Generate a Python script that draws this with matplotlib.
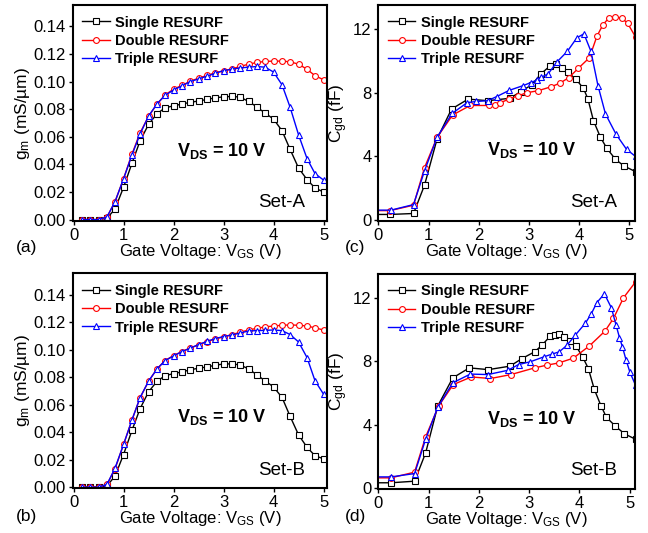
import matplotlib
matplotlib.use("Agg")
import matplotlib.pyplot as plt

plt.rcParams['font.family'] = ['Liberation Sans', 'DejaVu Sans']
plt.rcParams['mathtext.fontset'] = 'custom'
plt.rcParams['mathtext.rm'] = 'Liberation Sans'
plt.rcParams['mathtext.it'] = 'Liberation Sans'
plt.rcParams['mathtext.bf'] = 'Liberation Sans:bold'

# ---- gm data, Set-A / Set-B (VGS step ~1/6 V)
vgs_gm = [0.17, 0.33, 0.50, 0.67, 0.83, 1.00, 1.17, 1.33, 1.50, 1.67,
          1.83, 2.00, 2.17, 2.33, 2.50, 2.67, 2.83, 3.00, 3.17, 3.33,
          3.50, 3.67, 3.83, 4.00, 4.17, 4.33, 4.50, 4.67, 4.83, 5.00]

gm_single_a = [0.0, 0.0, 0.0, 0.001, 0.0077, 0.0234, 0.041, 0.057, 0.069, 0.0768,
               0.081, 0.0825, 0.0838, 0.085, 0.086, 0.0871, 0.0883, 0.089, 0.0893, 0.0888,
               0.0857, 0.0816, 0.0772, 0.0729, 0.0644, 0.051, 0.0374, 0.029, 0.0229, 0.020]
gm_double_a = [0.0, 0.0, 0.0, 0.002, 0.013, 0.0297, 0.0476, 0.0628, 0.0748, 0.0838,
               0.0903, 0.0946, 0.0973, 0.1002, 0.1026, 0.1045, 0.1064, 0.1079, 0.1093, 0.111,
               0.1127, 0.1139, 0.1147, 0.1149, 0.1149, 0.1144, 0.1127, 0.109, 0.1043, 0.1014]
gm_triple_a = [0.0, 0.0, 0.0, 0.002, 0.013, 0.0295, 0.047, 0.062, 0.075, 0.084,
               0.090, 0.094, 0.097, 0.100, 0.102, 0.104, 0.106, 0.108, 0.109, 0.110,
               0.1105, 0.111, 0.1105, 0.107, 0.0977, 0.0816, 0.0615, 0.0442, 0.0333, 0.0287]

gm_single_b = [0.0, 0.0, 0.0, 0.001, 0.008, 0.0237, 0.0414, 0.057, 0.0693, 0.077,
               0.081, 0.0826, 0.0838, 0.0853, 0.0865, 0.0874, 0.0886, 0.0896, 0.0896, 0.0889,
               0.086, 0.0816, 0.0773, 0.0729, 0.0652, 0.0516, 0.038, 0.029, 0.0228, 0.0206]
gm_double_b = [0.0, 0.0, 0.0, 0.002, 0.0133, 0.031, 0.049, 0.065, 0.077, 0.086,
               0.092, 0.0957, 0.0986, 0.1012, 0.1034, 0.1058, 0.1078, 0.1092, 0.111, 0.1126,
               0.1143, 0.1155, 0.1165, 0.1172, 0.1177, 0.118, 0.1177, 0.1172, 0.1158, 0.1143]
gm_triple_b = [0.0, 0.0, 0.0, 0.002, 0.0138, 0.031, 0.049, 0.065, 0.077, 0.086,
               0.092, 0.0954, 0.0986, 0.101, 0.1037, 0.106, 0.108, 0.1095, 0.1107, 0.112,
               0.1136, 0.1138, 0.114, 0.1143, 0.1138, 0.111, 0.1056, 0.0942, 0.0773, 0.0676]

# ---- Cgd data, Set-A
vgs_cs_a = [0.0, 0.23, 0.70, 0.92, 1.17, 1.46, 1.79, 2.18, 2.62, 2.84, 3.06, 3.24,
            3.43, 3.55, 3.67, 3.78, 3.94, 4.09, 4.18, 4.29, 4.43, 4.56, 4.73, 4.90, 5.13]
cgd_single_a = [0.36, 0.36, 0.42, 2.2, 5.1, 6.98, 7.6, 7.5, 7.65, 8.07, 8.5, 9.18,
                9.7, 9.79, 9.54, 9.29, 8.85, 8.28, 7.61, 6.25, 5.2, 4.5, 3.82, 3.40, 3.05]
vgs_cd_a = [0.0, 0.23, 0.70, 0.92, 1.17, 1.48, 1.83, 2.21, 2.32, 2.42, 2.60, 2.78, 2.96,
            3.19, 3.45, 3.62, 3.80, 3.99, 4.21, 4.36, 4.48, 4.60, 4.72, 4.85, 4.97, 5.13]
cgd_double_a = [0.6, 0.6, 0.94, 3.3, 5.2, 6.6, 7.2, 7.2, 7.25, 7.35, 7.6, 7.8, 8.0,
                8.13, 8.38, 8.6, 8.95, 9.54, 10.2, 11.55, 12.27, 12.7, 12.75, 12.7, 12.37, 11.5]
vgs_ct_a = [0.0, 0.25, 0.70, 0.92, 1.17, 1.47, 1.77, 1.95, 2.18, 2.36, 2.61, 2.89, 3.04,
            3.17, 3.25, 3.39, 3.57, 3.77, 3.96, 4.10, 4.24, 4.38, 4.53, 4.74, 4.95, 5.13]
cgd_triple_a = [0.63, 0.63, 0.98, 3.1, 5.2, 6.7, 7.38, 7.45, 7.5, 7.76, 8.15, 8.45, 8.64,
                8.8, 8.97, 9.2, 9.96, 10.6, 11.45, 11.7, 10.6, 8.45, 6.67, 5.4, 4.45, 4.0]

# ---- Cgd data, Set-B
vgs_cs_b = [0.0, 0.25, 0.72, 0.94, 1.18, 1.48, 1.81, 2.19, 2.62, 2.86, 3.11, 3.25, 3.42,
            3.52, 3.60, 3.69, 3.81, 3.93, 4.07, 4.18, 4.30, 4.43, 4.54, 4.72, 4.90, 5.12]
cgd_single_b = [0.36, 0.36, 0.46, 2.24, 5.18, 6.96, 7.59, 7.48, 7.7, 8.18, 8.6, 9.0, 9.58,
                9.69, 9.7, 9.54, 9.31, 8.99, 8.26, 7.55, 6.23, 5.22, 4.48, 3.92, 3.44, 3.1]
vgs_cd_b = [0.0, 0.25, 0.72, 0.94, 1.20, 1.49, 1.85, 2.23, 2.64, 3.11, 3.35, 3.59, 3.88,
            4.20, 4.51, 4.68, 4.88, 5.12]
cgd_double_b = [0.67, 0.67, 1.03, 3.25, 5.2, 6.54, 7.02, 6.92, 7.17, 7.59, 7.76, 7.9, 8.2,
                8.97, 9.9, 10.7, 12.0, 13.0]
vgs_ct_b = [0.0, 0.25, 0.72, 0.94, 1.18, 1.48, 1.83, 2.18, 2.58, 2.79, 3.02, 3.29, 3.45,
            3.60, 3.75, 3.92, 4.12, 4.24, 4.35, 4.50, 4.64, 4.73, 4.80, 4.86, 4.93, 5.01, 5.12]
cgd_triple_b = [0.73, 0.73, 0.94, 3.1, 5.1, 6.65, 7.2, 7.17, 7.44, 7.8, 7.97, 8.28, 8.45,
                8.6, 9.0, 9.65, 10.4, 11.0, 11.7, 12.25, 11.36, 10.3, 9.5, 8.9, 8.1, 7.3, 6.5]

labels = ['Single RESURF', 'Double RESURF', 'Triple RESURF']
colors = ['black', 'red', 'blue']
markers = ['s', 'o', '^']
msizes = [3.8, 4.2, 5.0]

fig = plt.figure(figsize=(6.48, 5.33), dpi=100)


def style_axes(ax):
    for sp in ax.spines.values():
        sp.set_linewidth(1.5)
    ax.tick_params(direction='out', length=3, width=1, labelsize=12, pad=2,
                   top=False, right=False)
    ax.set_xticks([0, 1, 2, 3, 4, 5])
    ax.set_xlabel(r'Gate Voltage: V$_{\mathrm{GS}}$ (V)', fontsize=12, labelpad=-1)


def draw(ax, xs, ys, skip_first):
    for i in range(3):
        me = slice(1, None) if skip_first else None
        ax.plot(xs[i], ys[i], color=colors[i], lw=1.0, marker=markers[i],
                ms=msizes[i], mfc='white', mec=colors[i], mew=0.8,
                markevery=me, label=labels[i], clip_on=True)
    leg = ax.legend(loc='upper left', bbox_to_anchor=(0.025, 0.965), frameon=False,
                    borderpad=0.2, borderaxespad=0, labelspacing=0.3,
                    handlelength=1.9, handletextpad=0.35, numpoints=1,
                    prop={'weight': 'bold', 'size': 10.5})
    return leg


# (a)
ax_a = fig.add_axes([0.1127, 0.5854, 0.392, 0.405])
draw(ax_a, [vgs_gm] * 3, [gm_single_a, gm_double_a, gm_triple_a], False)
ax_a.set_xlim(-0.01, 5.07)
ax_a.set_ylim(-0.001, 0.1555)
ax_a.set_yticks([0, 0.02, 0.04, 0.06, 0.08, 0.10, 0.12, 0.14])
ax_a.set_yticklabels(['0.00', '0.02', '0.04', '0.06', '0.08', '0.10', '0.12', '0.14'])
ax_a.set_ylabel(r'g$_{\mathrm{m}}$ (mS/µm)', fontsize=12.5, labelpad=1)
style_axes(ax_a)
ax_a.text(2.07, 0.050, r'$\mathbf{V_{DS}}$ = 10 V', fontsize=13, fontweight='bold', va='center')
ax_a.text(0.915, 0.085, 'Set-A', transform=ax_a.transAxes, fontsize=13.5, ha='right', va='center')

# (c)
ax_c = fig.add_axes([0.584, 0.5854, 0.396, 0.405])
draw(ax_c, [vgs_cs_a, vgs_cd_a, vgs_ct_a], [cgd_single_a, cgd_double_a, cgd_triple_a], True)
ax_c.set_xlim(0, 5.12)
ax_c.set_ylim(-0.05, 13.5)
ax_c.set_yticks([0, 4, 8, 12])
ax_c.set_ylabel(r'C$_{\mathrm{gd}}$ (fF)', fontsize=12.5, labelpad=2)
style_axes(ax_c)
ax_c.text(2.16, 4.4, r'$\mathbf{V_{DS}}$ = 10 V', fontsize=13, fontweight='bold', va='center')
ax_c.text(0.93, 0.085, 'Set-A', transform=ax_c.transAxes, fontsize=13.5, ha='right', va='center')

# (b)
ax_b = fig.add_axes([0.1127, 0.0835, 0.392, 0.4037])
draw(ax_b, [vgs_gm] * 3, [gm_single_b, gm_double_b, gm_triple_b], False)
ax_b.set_xlim(-0.01, 5.07)
ax_b.set_ylim(-0.001, 0.1555)
ax_b.set_yticks([0, 0.02, 0.04, 0.06, 0.08, 0.10, 0.12, 0.14])
ax_b.set_yticklabels(['0.00', '0.02', '0.04', '0.06', '0.08', '0.10', '0.12', '0.14'])
ax_b.set_ylabel(r'g$_{\mathrm{m}}$ (mS/µm)', fontsize=12.5, labelpad=1)
style_axes(ax_b)
ax_b.text(2.07, 0.051, r'$\mathbf{V_{DS}}$ = 10 V', fontsize=13, fontweight='bold', va='center')
ax_b.text(0.915, 0.085, 'Set-B', transform=ax_b.transAxes, fontsize=13.5, ha='right', va='center')

# (d)
ax_d = fig.add_axes([0.584, 0.082, 0.396, 0.404])
draw(ax_d, [vgs_cs_b, vgs_cd_b, vgs_ct_b], [cgd_single_b, cgd_double_b, cgd_triple_b], True)
ax_d.set_xlim(0, 5.11)
ax_d.set_ylim(-0.05, 13.5)
ax_d.set_yticks([0, 4, 8, 12])
ax_d.set_ylabel(r'C$_{\mathrm{gd}}$ (fF)', fontsize=12.5, labelpad=2)
style_axes(ax_d)
ax_d.text(2.16, 4.4, r'$\mathbf{V_{DS}}$ = 10 V', fontsize=13, fontweight='bold', va='center')
ax_d.text(0.93, 0.085, 'Set-B', transform=ax_d.transAxes, fontsize=13.5, ha='right', va='center')

# panel letters
fig.text(0.025, 0.535, '(a)', fontsize=12.5, va='center')
fig.text(0.532, 0.535, '(c)', fontsize=12.5, va='center')
fig.text(0.025, 0.031, '(b)', fontsize=12.5, va='center')
fig.text(0.532, 0.031, '(d)', fontsize=12.5, va='center')

fig.savefig('out.png', dpi=100)
